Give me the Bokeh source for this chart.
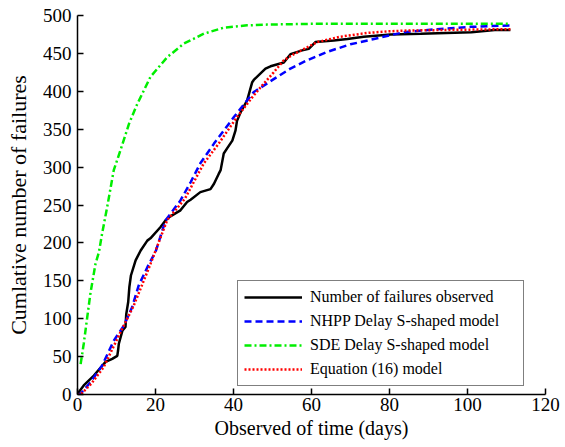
from bokeh.plotting import figure
from bokeh.models import FixedTicker, Range1d, Legend, LegendItem
from bokeh.embed import file_html
from bokeh.resources import INLINE

# Observed failures (black)
obs_t = [0, 0.3, 1.6, 4.2, 7.2, 8.9, 10.2, 10.4, 10.6, 11.5, 12.3, 12.5, 13.0, 13.3, 13.7,
         14.9, 16.2, 17.9, 18.7, 21.3, 22.6, 23.8, 26.4, 28.1, 29.0, 31.5, 34.1, 35.0, 36.2,
         36.7, 37.5, 38.4, 39.7, 40.5, 40.9, 41.8, 43.5, 44.8, 45.2, 48.2, 49.5, 52.9, 54.6,
         57.6, 59.3, 61.0, 65.7, 69.2, 73.4, 80.3, 88.0, 101.0, 107.0, 111.0]
obs_v = [0, 3, 12, 25, 43, 47, 51, 58, 67, 84, 89, 106, 122, 142, 157,
         177, 190, 203, 206, 221, 230, 235, 243, 254, 257, 267, 271, 278, 291,
         296, 318, 325, 335, 348, 361, 372, 388, 412, 415, 430, 433, 438, 449,
         454, 456, 465, 467, 469, 472, 475, 476, 478, 481, 481]

# NHPP Delay S-shaped model (blue)
nhpp_t = [0, 0.8, 3.3, 6.3, 9.3, 11.9, 14.0, 15.7, 18.3, 20.0, 22.6, 26.4, 29.0, 31.5,
          35.0, 40.1, 43.5, 45.2, 50.3, 54.6, 58.9, 64.0, 70.0, 76.0, 83.7, 92.2, 100.8, 111.0]
nhpp_v = [0, 1, 16, 38, 71, 91, 115, 144, 172, 188, 230, 256, 280, 305,
          331, 366, 388, 399, 416, 430, 441, 452, 462, 469, 478, 482, 485, 487]

# SDE Delay S-shaped model (green)
sde_t = [0.8, 1.6, 2.5, 3.3, 4.6, 5.5, 6.3, 7.6, 9.3, 11.0, 13.2, 15.3, 18.7, 23.0, 27.3,
         32.4, 37.5, 43.5, 48.6, 60.0, 80.0, 100.0, 111.0]
sde_v = [40, 67, 102, 133, 172, 188, 212, 247, 296, 322, 357, 383, 419, 445, 463,
         476, 484, 487, 488, 489, 489, 489, 489]

# Equation (16) model (red)
eq_t = [0, 0.8, 3.5, 6.7, 11.0, 14.4, 18.7, 23.0, 27.5, 32.4, 36.2, 40.9, 44.8, 46.9,
        50.3, 52.9, 55.5, 61.5, 67.4, 74.3, 79.4, 83.6, 95.0, 111.0]
eq_v = [0, 0, 14, 36, 82, 117, 172, 230, 258, 305, 331, 366, 392, 405,
        425, 441, 449, 465, 472, 477, 479, 480, 481, 482]

x_ticks = [0, 20, 40, 60, 80, 100, 120]
y_ticks = [0, 50, 100, 150, 200, 250, 300, 350, 400, 450, 500]

FONT = "Liberation Serif"

p = figure(width=565, height=447, output_backend="svg", toolbar_location=None,
           x_range=Range1d(0, 120), y_range=Range1d(0, 500),
           min_border_left=77, min_border_right=20, min_border_top=15, min_border_bottom=53)
p.outline_line_color = None
p.grid.grid_line_color = None
p.background_fill_color = "white"

for ax in (p.xaxis[0], p.yaxis[0]):
    ax.axis_line_color = "black"
    ax.axis_line_width = 1.5
    ax.major_tick_in = 6
    ax.major_tick_out = 0
    ax.major_tick_line_width = 1.5
    ax.minor_tick_line_color = None
    ax.major_label_text_font = FONT
    ax.major_label_text_font_size = "19px"
    ax.major_label_text_color = "black"
    ax.axis_label_text_font = FONT
    ax.axis_label_text_font_style = "normal"
    ax.axis_label_text_color = "black"

p.xaxis.axis_label_text_font_size = "20px"
p.yaxis.axis_label_text_font_size = "22px"
p.xaxis.ticker = FixedTicker(ticks=x_ticks)
p.yaxis.ticker = FixedTicker(ticks=y_ticks)
p.xaxis.axis_label = "Observed of time (days)"
p.yaxis.axis_label = "Cumlative number of failures"
p.xaxis.major_label_standoff = 3
p.xaxis.axis_label_standoff = 3
p.yaxis.major_label_standoff = 6
p.yaxis.axis_label_standoff = 9

r_obs = p.line(obs_t, obs_v, line_color="black", line_width=2.5)
r_nhpp = p.line(nhpp_t, nhpp_v, line_color="#0000ff", line_width=2.5, line_dash="7 4")
r_sde = p.line(sde_t, sde_v, line_color="#00ee00", line_width=2.5, line_dash="7 3 2 3")
r_eq = p.line(eq_t, eq_v, line_color="#ff0000", line_width=2.5, line_dash="2 2")

legend = Legend(items=[
    LegendItem(label="Number of failures observed", renderers=[r_obs]),
    LegendItem(label="NHPP Delay S-shaped model", renderers=[r_nhpp]),
    LegendItem(label="SDE Delay S-shaped model", renderers=[r_sde]),
    LegendItem(label="Equation (16) model", renderers=[r_eq]),
], location=(160, 8))
legend.margin = 0
legend.padding = 6
legend.spacing = 4
legend.glyph_width = 58
legend.glyph_height = 20
legend.label_height = 20
legend.label_width = 207
legend.label_standoff = 8
legend.label_text_font = FONT
legend.label_text_font_size = "16px"
legend.label_text_color = "black"
legend.border_line_color = "black"
legend.border_line_width = 1.2
legend.background_fill_alpha = 1.0
p.add_layout(legend)

open("out.html", "w").write(file_html(p, INLINE))
